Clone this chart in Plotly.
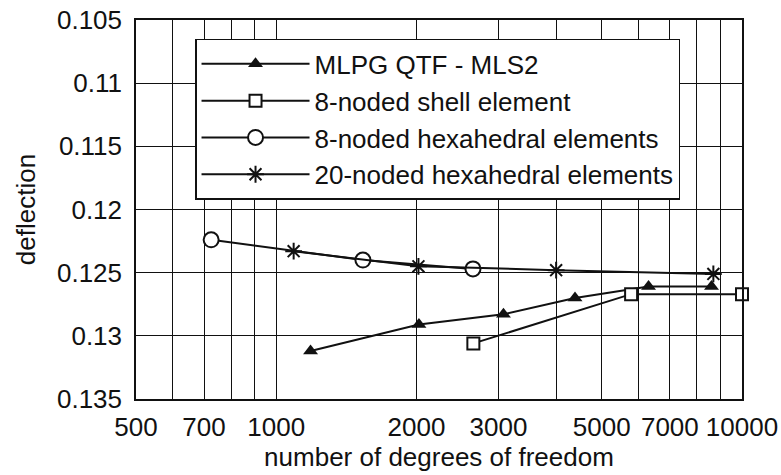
import plotly.graph_objects as go

# ---- data ----
mlpg_x = [1185, 2025, 3075, 4380, 6300, 8600]
mlpg_y = [0.1312, 0.1291, 0.1283, 0.1270, 0.1261, 0.1261]

shell_x = [2650, 5780, 10000]
shell_y = [0.1306, 0.1267, 0.1267]

hexa8_x = [725, 1535, 2645]
hexa8_y = [0.1224, 0.1240, 0.1247]

hexa20_x = [1090, 2020, 3990, 8680]
hexa20_y = [0.1233, 0.1245, 0.1248, 0.1251]

x_grid_vals = [500, 600, 700, 800, 900, 1000, 2000, 3000, 4000, 5000,
               6000, 7000, 8000, 9000, 10000]
x_tick_text = ["500", "", "700", "", "", "1000", "2000", "3000", "", "5000",
               "", "7000", "", "", "10000"]
y_tick_vals = [0.105, 0.11, 0.115, 0.12, 0.125, 0.13, 0.135]
y_tick_text = ["0.105", "0.11", "0.115", "0.12", "0.125", "0.13", "0.135"]

names = ["MLPG QTF - MLS2", "8-noded shell element",
         "8-noded hexahedral elements", "20-noded hexahedral elements"]

FONT = "Liberation Sans, Arial, sans-serif"
BLACK = "#111111"

fig = go.Figure()
fig.add_trace(go.Scatter(
    x=mlpg_x, y=mlpg_y, name=names[0], mode="lines+markers",
    line=dict(color=BLACK, width=2),
    marker=dict(symbol="triangle-up", size=13, color=BLACK),
    cliponaxis=False))
fig.add_trace(go.Scatter(
    x=shell_x, y=shell_y, name=names[1], mode="lines+markers",
    line=dict(color=BLACK, width=2),
    marker=dict(symbol="square", size=12, color="white",
                line=dict(color=BLACK, width=2)),
    cliponaxis=False))
fig.add_trace(go.Scatter(
    x=hexa8_x, y=hexa8_y, name=names[2], mode="lines+markers",
    line=dict(color=BLACK, width=2),
    marker=dict(symbol="circle", size=15, color="white",
                line=dict(color=BLACK, width=2)),
    cliponaxis=False))
fig.add_trace(go.Scatter(
    x=hexa20_x, y=hexa20_y, name=names[3], mode="lines+markers",
    line=dict(color=BLACK, width=2),
    marker=dict(symbol="asterisk-open", size=14, color=BLACK,
                line=dict(color=BLACK, width=2)),
    cliponaxis=False))

fig.update_layout(
    width=781, height=475,
    margin=dict(l=136, r=39, t=20, b=76, autoexpand=False),
    paper_bgcolor="white", plot_bgcolor="white",
    font=dict(family=FONT, size=26, color=BLACK),
    showlegend=True,
    legend=dict(
        x=0.0974, y=0.95, xanchor="left", yanchor="top",
        bgcolor="white", bordercolor=BLACK, borderwidth=1.5,
        font=dict(family=FONT, size=26, color=BLACK),
        itemwidth=108, tracegroupgap=0,
    ),
    xaxis=dict(
        type="log", range=[2.69897, 4.0], automargin=False,
        tickmode="array", tickvals=x_grid_vals, ticktext=x_tick_text,
        showgrid=True, gridcolor=BLACK, gridwidth=1.3,
        showline=True, linecolor=BLACK, linewidth=1.5, mirror=True,
        ticks="", ticklen=0, ticklabelstandoff=4,
        tickfont=dict(size=26),
        title=dict(text="number of degrees of freedom", font=dict(size=26),
                   standoff=0),
        zeroline=False,
    ),
    yaxis=dict(
        range=[0.135, 0.105], automargin=False,
        tickmode="array", tickvals=y_tick_vals, ticktext=y_tick_text,
        showgrid=True, gridcolor=BLACK, gridwidth=1.3,
        showline=True, linecolor=BLACK, linewidth=1.5, mirror=True,
        ticks="", ticklen=0, ticklabelstandoff=7,
        tickfont=dict(size=26),
        title=dict(text="deflection", font=dict(size=26), standoff=14),
        zeroline=False,
    ),
)

fig.write_html("out.html",
               config={"displayModeBar": False},
               post_script="document.body.style.margin='0';"
                           "document.body.style.overflow='hidden';")
